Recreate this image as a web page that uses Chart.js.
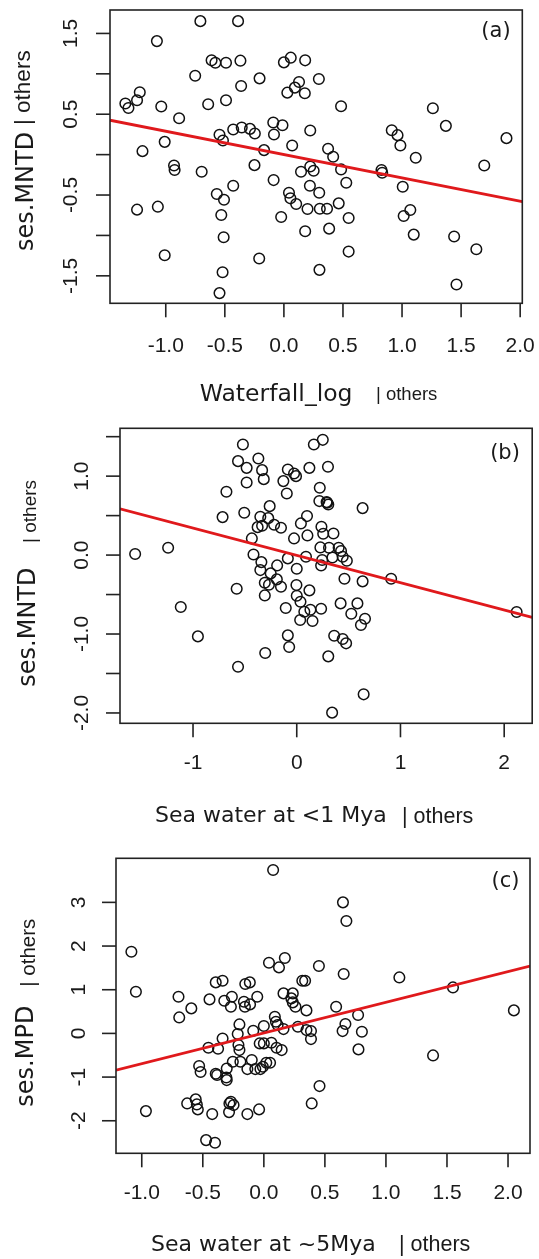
<!DOCTYPE html>
<html>
<head>
<meta charset="utf-8">
<script src="https://cdn.jsdelivr.net/npm/chart.js@4/dist/chart.umd.min.js"></script>
<style>
  html, body { margin: 0; padding: 0; background: #fff; }
  body { width: 539px; height: 1259px; position: relative; overflow: hidden; }
  canvas { position: absolute; left: 0; }
</style>
</head>
<body>
<canvas id="ca" width="539" height="415" style="top:0px"></canvas>
<canvas id="cb" width="539" height="425" style="top:415px"></canvas>
<canvas id="cc" width="539" height="419" style="top:840px"></canvas>
<script>
// ---------- Panel (a): Waterfall_log | others vs ses.MNTD | others ----------
const xA = [-1.342,-1.316,-1.243,-1.220,-1.197,-1.243,-1.075,-1.038,-1.009,-1.067,
  -1.009,-0.930,-0.925,-0.887,-0.751,-0.707,-0.696,-0.641,-0.612,-0.580,
  -0.490,-0.490,-0.545,-0.516,-0.568,-0.507,-0.530,-0.510,-0.519,-0.545,
  -0.388,-0.368,-0.362,-0.429,-0.357,-0.287,-0.246,-0.429,-0.206,-0.168,
  -0.249,-0.209,-0.090,-0.084,-0.012,-0.087,-0.023,0.000,0.058,0.180,
  0.128,0.093,0.029,0.177,0.296,0.070,0.223,0.043,0.055,0.104,
  0.145,0.223,0.252,0.220,0.299,0.200,0.304,0.365,0.180,0.383,
  0.301,0.374,0.417,0.484,0.484,0.528,0.464,0.548,0.548,0.826,
  0.832,0.913,0.962,0.986,1.116,1.006,1.070,1.014,1.099,1.261,
  1.371,1.441,1.629,1.461,1.696,1.884];
const yA = [0.632,0.578,0.673,0.772,0.043,-0.681,1.405,0.595,0.158,-0.644,
  -1.245,-0.134,-0.191,0.451,0.977,1.652,-0.212,0.623,1.167,1.138,
  1.138,0.673,0.245,0.175,-0.488,-0.558,-0.747,-1.023,-1.455,-1.714,
  1.652,1.163,0.850,0.311,0.335,0.319,0.261,-0.385,0.944,0.056,
  -0.130,-1.286,0.397,0.249,0.364,-0.315,-0.772,1.142,1.200,1.167,
  0.899,0.829,0.767,0.759,0.936,0.113,0.298,-0.471,-0.541,-0.611,
  -0.212,-0.146,-0.200,-0.385,-0.471,-0.673,-0.669,-0.669,-0.949,-0.916,
  -1.426,0.072,-0.027,0.599,-0.183,-0.348,-0.603,-0.784,-1.200,-0.191,
  -0.224,0.302,0.241,0.113,-0.039,-0.397,-0.685,-0.759,-0.990,0.574,
  0.356,-1.014,-1.171,-1.607,-0.134,0.204];
const fitA = [{x:-1.472, y:0.426}, {x:2.018, y:-0.583}];
const xTicksA = [-1.0,-0.5,0.0,0.5,1.0,1.5,2.0];
const xLabelsA = ['-1.0','-0.5','0.0','0.5','1.0','1.5','2.0'];
const yTicksA = [-1.5,-1.0,-0.5,0.0,0.5,1.0,1.5];
const yLabelsA = ['-1.5','','-0.5','','0.5','','1.5'];

// ---------- Panel (b): Sea water at <1 Mya | others vs ses.MNTD | others ----------
const xB = [-1.558,-1.240,-1.118,-0.953,-0.678,-0.715,-0.566,-0.519,-0.483,-0.483,
  -0.506,-0.579,-0.566,-0.370,-0.334,-0.318,-0.261,-0.351,-0.275,-0.377,
  -0.334,-0.433,-0.417,-0.341,-0.351,-0.251,-0.308,-0.268,-0.308,-0.304,
  -0.218,-0.152,-0.189,-0.192,-0.152,-0.086,-0.026,-0.007,-0.129,-0.096,
  -0.026,-0.086,0.000,-0.003,0.000,0.036,-0.106,-0.086,-0.073,0.040,
  0.099,0.103,0.089,0.122,0.165,0.251,0.222,0.218,0.301,0.288,
  0.304,0.238,0.255,0.354,0.228,0.311,0.404,0.427,0.344,0.443,
  0.483,0.245,0.235,0.122,0.073,0.132,0.033,0.152,0.235,0.423,
  0.585,0.526,0.658,0.619,0.361,0.443,0.476,0.304,0.460,0.635,
  0.635,0.645,0.341,0.910,2.120,0.294];
const yB = [0.013,0.093,-0.658,-1.030,0.802,0.481,1.190,1.401,1.105,0.920,
  0.536,-0.426,-1.414,1.224,1.076,0.962,0.620,0.485,0.468,0.354,
  0.371,0.211,0.008,-0.089,-0.190,-0.232,-0.350,-0.376,-0.511,-1.241,
  0.384,0.346,-0.131,-0.308,-0.401,1.084,1.034,1.000,0.937,0.781,
  0.211,-0.042,-0.173,-0.380,-0.515,-0.591,-0.671,-1.017,-1.165,0.401,
  0.494,0.249,-0.021,1.105,1.401,1.460,0.852,0.684,1.118,0.671,
  0.641,0.359,0.270,0.274,0.097,0.093,0.093,0.051,-0.030,-0.021,
  -0.072,-0.063,-0.131,-0.447,-0.717,-0.692,-0.823,-0.835,-0.679,-0.612,
  -0.612,-0.743,-0.806,-0.886,-1.021,-1.063,-1.118,-1.283,-0.300,-0.333,
  0.595,-1.764,-1.996,-0.300,-0.722,0.662];
const fitB = [{x:-1.704, y:0.586}, {x:2.270, y:-0.789}];
const xTicksB = [-1,0,1,2];
const xLabelsB = ['-1','0','1','2'];
const yTicksB = [-2.0,-1.5,-1.0,-0.5,0.0,0.5,1.0,1.5];
const yLabelsB = ['-2.0','','-1.0','','0.0','','1.0',''];

// ---------- Panel (c): Sea water at ~5Mya | others vs ses.MPD | others ----------
const xC = [-1.085,-1.048,-0.966,-0.699,-0.693,-0.594,-0.628,-0.558,-0.549,-0.541,
  -0.530,-0.518,-0.473,-0.400,-0.445,-0.454,-0.423,-0.394,-0.338,-0.375,
  -0.338,-0.394,-0.383,-0.324,-0.262,-0.270,-0.304,-0.307,-0.304,-0.270,
  -0.282,-0.248,-0.285,-0.254,-0.200,-0.214,-0.208,-0.200,-0.192,-0.163,
  -0.155,-0.152,-0.115,-0.113,-0.054,-0.087,-0.099,-0.135,-0.135,-0.070,
  -0.039,-0.034,0.000,0.000,-0.028,-0.008,0.020,0.051,0.042,0.062,
  0.076,0.090,0.099,0.113,0.104,0.146,0.124,0.172,0.161,0.161,
  0.237,0.225,0.237,0.259,0.279,0.315,0.338,0.349,0.349,0.386,
  0.386,0.451,0.456,0.392,0.592,0.648,0.676,0.654,0.645,0.668,
  0.772,0.803,0.775,1.110,1.386,1.549,2.048];
const yC = [1.870,0.954,-1.779,0.840,0.366,0.573,-1.603,-1.511,-1.626,-1.740,
  -0.748,-0.885,-2.443,-2.504,0.779,-0.328,-1.847,1.168,1.206,-0.351,
  -0.115,-0.924,-0.954,0.748,0.840,0.611,-0.802,-1.008,-1.069,-1.565,
  -1.603,-1.641,-1.802,-0.649,0.206,-0.015,-0.267,-0.382,-0.649,0.725,
  0.611,1.130,1.168,0.664,0.840,0.061,-0.611,-0.817,-1.847,-0.817,
  -1.740,-0.229,-0.229,0.168,-0.817,-0.763,-0.672,-0.672,1.618,-0.214,
  3.740,0.382,0.267,0.191,-0.328,-0.382,1.511,1.725,0.916,0.099,
  0.916,0.802,0.710,0.611,0.153,1.206,1.206,0.527,0.076,0.053,
  -0.130,1.542,-1.206,-1.603,0.611,3.000,2.573,1.359,0.053,0.214,
  0.420,0.038,-0.366,1.282,-0.504,1.053,0.527];
const fitC = [{x:-1.211, y:-0.840}, {x:2.180, y:1.542}];
const xTicksC = [-1.0,-0.5,0.0,0.5,1.0,1.5,2.0];
const xLabelsC = ['-1.0','-0.5','0.0','0.5','1.0','1.5','2.0'];
const yTicksC = [-2,-1,0,1,2,3];
const yLabelsC = ['-2','-1','0','1','2','3'];

// ---------- layout / style ----------
const TICK_FONT = '21px "Liberation Sans", Arial, sans-serif';
const DV = 'px "DejaVu Sans", Verdana, sans-serif';
const LS = 'px "Liberation Sans", Arial, sans-serif';
const INK = '#1a1a1a';

const panels = [
  { id:'ca', xs:xA, ys:yA, fit:fitA, xr:[-1.472,2.018], yr:[-1.84,1.79],
    xt:xTicksA, xl:xLabelsA, yt:yTicksA, yl:yLabelsA,
    pad:{left:110, top:10, right:16.7, bottom:111.7},
    xLabY:346, yLabX:71,
    xTitle:{text:'Waterfall_log', x:199.7, y:395, size:23.5}, xOthers:{x:376, y:395, size:18.5},
    yTitle:{text:'ses.MNTD', x:26.8, y:251, size:24}, yOthers:{x:24, y:125, size:22.5},
    tag:{text:'(a)', x:496, y:32} },
  { id:'cb', xs:xB, ys:yB, fit:fitB, xr:[-1.704,2.270], yr:[-2.131,1.606],
    xt:xTicksB, xl:xLabelsB, yt:yTicksB, yl:yLabelsB,
    pad:{left:120, top:13.3, right:5.7, bottom:116.7},
    xLabY:348, yLabX:82.5,
    xTitle:{text:'Sea water at <1 Mya', x:155, y:401.7, size:22}, xOthers:{x:402, y:401.7, size:21.5},
    yTitle:{text:'ses.MNTD', x:29, y:271.7, size:24}, yOthers:{x:31, y:128, size:19} ,
    tag:{text:'(b)', x:505, y:38.3} },
  { id:'cc', xs:xC, ys:yC, fit:fitC, xr:[-1.211,2.180], yr:[-2.745,4.009],
    xt:xTicksC, xl:xLabelsC, yt:yTicksC, yl:yLabelsC,
    pad:{left:116, top:18.3, right:9, bottom:105.7},
    xLabY:353.3, yLabX:79,
    xTitle:{text:'Sea water at ~5Mya', x:151, y:405, size:22}, xOthers:{x:399, y:405, size:21.5},
    yTitle:{text:'ses.MPD', x:27.2, y:266.7, size:24}, yOthers:{x:29, y:146.7, size:20.5},
    tag:{text:'(c)', x:505.5, y:41.7} }
];

const rAxes = {
  id: 'rAxes',
  afterDraw(chart, args, opts) {
    const p = opts.panel;
    const { ctx, chartArea: ca, scales } = chart;
    const xs = scales.x, ys = scales.y;
    ctx.save();
    ctx.strokeStyle = '#222';
    ctx.lineWidth = 1.6;
    ctx.strokeRect(ca.left, ca.top, ca.right - ca.left, ca.bottom - ca.top);
    ctx.fillStyle = INK;
    // x ticks
    ctx.font = TICK_FONT;
    ctx.textAlign = 'center';
    ctx.textBaseline = 'middle';
    p.xt.forEach((v, i) => {
      const px = xs.getPixelForValue(v);
      ctx.beginPath(); ctx.moveTo(px, ca.bottom); ctx.lineTo(px, ca.bottom + 14); ctx.stroke();
      if (p.xl[i]) ctx.fillText(p.xl[i], px, p.xLabY);
    });
    // y ticks (labels rotated, R style)
    p.yt.forEach((v, i) => {
      const py = ys.getPixelForValue(v);
      ctx.beginPath(); ctx.moveTo(ca.left, py); ctx.lineTo(ca.left - 14, py); ctx.stroke();
      if (p.yl[i]) {
        ctx.save(); ctx.translate(p.yLabX, py); ctx.rotate(-Math.PI / 2);
        ctx.fillText(p.yl[i], 0, 0); ctx.restore();
      }
    });
    // x title
    ctx.textAlign = 'left';
    ctx.font = p.xTitle.size + DV;
    ctx.fillText(p.xTitle.text, p.xTitle.x, p.xTitle.y);
    ctx.font = p.xOthers.size + LS;
    ctx.fillText('| others', p.xOthers.x, p.xOthers.y);
    // y title
    ctx.save(); ctx.translate(p.yTitle.x, p.yTitle.y); ctx.rotate(-Math.PI / 2);
    ctx.font = p.yTitle.size + DV; ctx.fillText(p.yTitle.text, 0, 0); ctx.restore();
    ctx.save(); ctx.translate(p.yOthers.x, p.yOthers.y); ctx.rotate(-Math.PI / 2);
    ctx.font = p.yOthers.size + LS; ctx.fillText('| others', 0, 0); ctx.restore();
    // tag
    ctx.textAlign = 'center';
    ctx.font = '21' + DV;
    ctx.fillText(p.tag.text, p.tag.x, p.tag.y);
    ctx.restore();
  }
};

panels.forEach(p => {
  const pts = p.xs.map((x, i) => ({ x: x, y: p.ys[i] }));
  new Chart(document.getElementById(p.id), {
    type: 'scatter',
    data: {
      datasets: [
        { type: 'scatter', data: pts, pointStyle: 'circle', pointRadius: 5.3,
          pointHoverRadius: 5.3, backgroundColor: 'rgba(0,0,0,0)',
          borderColor: '#111', borderWidth: 1.5, clip: false, order: 2 },
        { type: 'line', data: p.fit, borderColor: '#e0191c', borderWidth: 2.8,
          pointRadius: 0, fill: false, order: 1 }
      ]
    },
    options: {
      responsive: false, animation: false, devicePixelRatio: 1,
      layout: { padding: p.pad },
      plugins: { legend: { display: false }, tooltip: { enabled: false }, rAxes: { panel: p } },
      events: [],
      scales: {
        x: { type: 'linear', display: false, min: p.xr[0], max: p.xr[1] },
        y: { type: 'linear', display: false, min: p.yr[0], max: p.yr[1] }
      }
    },
    plugins: [rAxes]
  });
});
</script>
</body>
</html>
